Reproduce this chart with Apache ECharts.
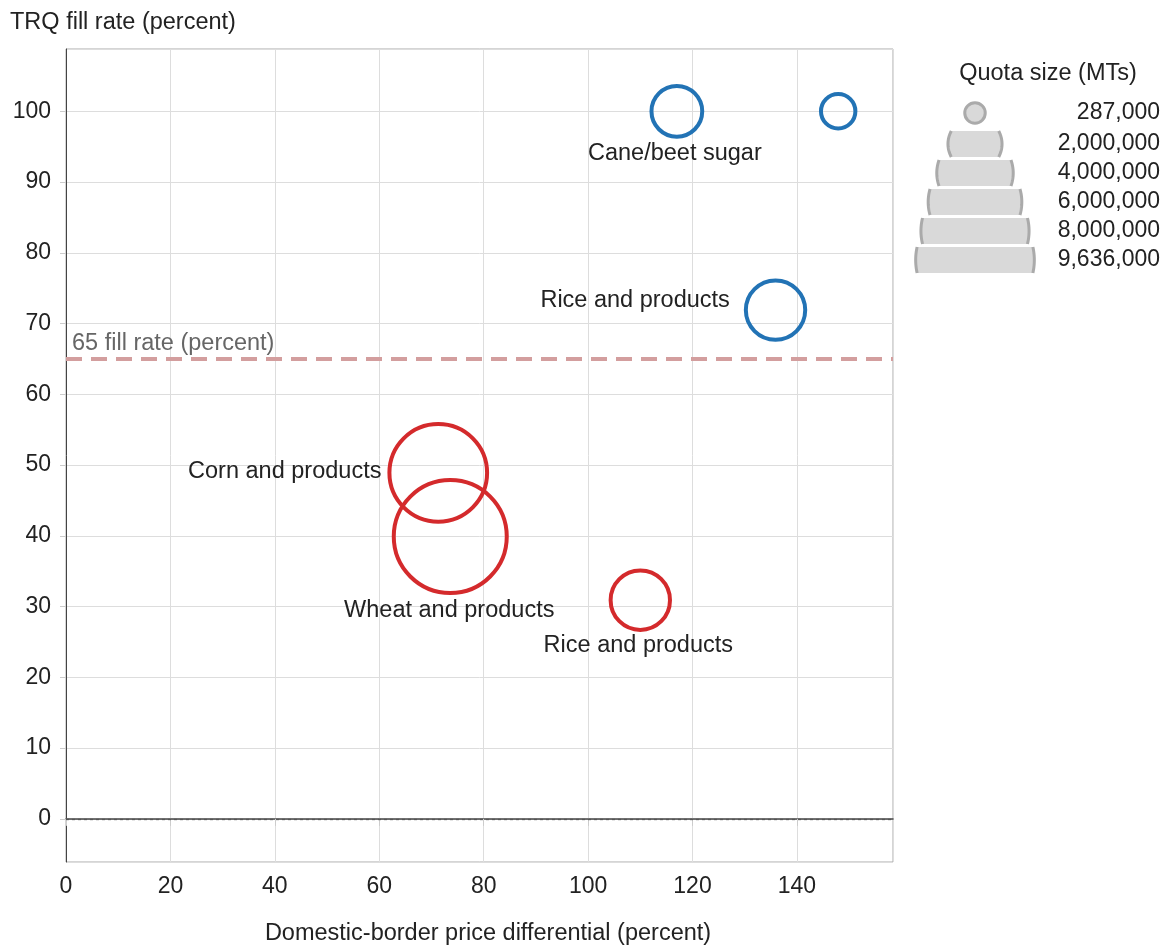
<!DOCTYPE html>
<html>
<head>
<meta charset="utf-8">
<title>TRQ fill rate vs price differential</title>
<script src="https://cdn.jsdelivr.net/npm/echarts@6.0.0/dist/echarts.min.js"></script>
<style>
  html, body { margin: 0; padding: 0; background: #fff; }
  #chart { width: 1166px; height: 947px; }
</style>
</head>
<body>
<div id="chart"></div>
<script>
// values
const names = ['Cane/beet sugar', '', 'Rice and products', 'Corn and products', 'Wheat and products', 'Rice and products']
const priceDiff = [117, 147.9, 135.9, 71.3, 73.6, 110]
const fillRate = [100, 100, 71.9, 48.9, 39.9, 30.9]
const quotas = [1945000, 894000, 2660000, 7200000, 9636000, 2660000]
const groups = ['above', 'above', 'above', 'below', 'below', 'below']

const legendQuotas = [287000, 2000000, 4000000, 6000000, 8000000, 9636000]
const thresholdRate = 65

const FONT = "'Liberation Sans', Arial, Helvetica, sans-serif"
const TEXT = '#222'
const groupColors = { above: '#2273b5', below: '#d42a2c' }

// where each bubble's name sits (style only)
const labelStyles = [
  { position: 'bottom', distance: 3, offset: [-2, 0] },
  { show: false },
  { position: 'left', distance: 14, offset: [0, -10] },
  { position: 'left', distance: 6, offset: [0, -1] },
  { position: 'bottom', distance: 3, offset: [-1, 0] },
  { position: 'bottom', distance: 2, offset: [-2, 0] },
]

// bubble area proportional to quota
const SIZE_K = 113 / Math.sqrt(9636000)
function bubbleSize(q) {
  return SIZE_K * Math.sqrt(q)
}

function buildSeries(group) {
  const data = []
  names.forEach((n, i) => {
    if (groups[i] !== group) return
    data.push({
      name: n,
      value: [priceDiff[i], fillRate[i], quotas[i]],
      label: Object.assign({ show: true }, labelStyles[i]),
    })
  })
  return {
    type: 'scatter',
    name: group,
    data: data,
    symbol: 'circle',
    symbolSize: (v) => bubbleSize(v[2]),
    itemStyle: {
      color: 'rgba(0,0,0,0)',
      borderColor: groupColors[group],
      borderWidth: 4,
      opacity: 1,
    },
    label: {
      formatter: '{b}',
      color: TEXT,
      fontSize: 23.5,
      fontFamily: FONT,
    },
    emphasis: { disabled: true },
    z: 5,
  }
}

// points along a circle arc (angles in radians, screen coords)
function arcPoints(cx, cy, r, a0, a1, steps) {
  const pts = []
  for (let k = 0; k <= steps; k++) {
    const a = a0 + (a1 - a0) * k / steps
    pts.push([cx + r * Math.cos(a), cy + r * Math.sin(a)])
  }
  return pts
}

// size legend: stacked circles cut into bands
function legendGraphics() {
  const out = []
  const cx = 975
  const half = 13
  const legK = SIZE_K * 1.05
  legendQuotas.forEach((q, i) => {
    const cy = i === 0 ? 113 : 144 + 29 * (i - 1)
    const R = legK * Math.sqrt(q) / 2
    if (R <= half) {
      out.push({
        type: 'circle',
        shape: { cx: cx, cy: cy, r: R },
        style: { fill: '#d9d9d9', stroke: '#aaa', lineWidth: 3 },
      })
    } else {
      const a = Math.asin(half / R)
      const right = arcPoints(cx, cy, R, -a, a, 24)
      const left = arcPoints(cx, cy, R, Math.PI - a, Math.PI + a, 24)
      out.push({
        type: 'polygon',
        shape: { points: right.concat(left) },
        style: { fill: '#d9d9d9', stroke: null },
      })
      out.push({
        type: 'polyline',
        shape: { points: right },
        style: { fill: null, stroke: '#aaa', lineWidth: 3 },
      })
      out.push({
        type: 'polyline',
        shape: { points: left },
        style: { fill: null, stroke: '#aaa', lineWidth: 3 },
      })
    }
    out.push({
      type: 'text',
      x: 1160,
      y: cy,
      style: {
        text: q.toLocaleString('en-US'),
        align: 'right',
        verticalAlign: 'middle',
        fontSize: 23,
        fontFamily: FONT,
        fill: TEXT,
      },
    })
  })
  out.push({
    type: 'text',
    x: 1048,
    y: 74,
    style: {
      text: 'Quota size (MTs)',
      align: 'center',
      verticalAlign: 'middle',
      fontSize: 23.5,
      fontFamily: FONT,
      fill: TEXT,
    },
  })
  out.push({
    type: 'text',
    x: 10,
    y: 23,
    style: {
      text: 'TRQ fill rate (percent)',
      align: 'left',
      verticalAlign: 'middle',
      fontSize: 23.5,
      fontFamily: FONT,
      fill: TEXT,
    },
  })
  return out
}

const series = [buildSeries('above'), buildSeries('below')]
// reference lines: zero line and the 65 percent fill rate
series[1].markLine = {
  silent: true,
  symbol: 'none',
  animation: false,
  data: [
    {
      yAxis: 0,
      lineStyle: { color: '#555', width: 1.3, type: [3, 3] },
      label: { show: false },
    },
    {
      yAxis: thresholdRate,
      lineStyle: { color: '#d39e9e', width: 4, type: [16, 9] },
      label: {
        show: true,
        position: 'insideStartTop',
        formatter: thresholdRate + ' fill rate (percent)',
        color: '#666',
        fontSize: 23.5,
        fontFamily: FONT,
        distance: [6, 3],
      },
    },
  ],
}

const chart = echarts.init(document.getElementById('chart'))
chart.setOption({
  animation: false,
  backgroundColor: '#fff',
  textStyle: { fontFamily: FONT },
  grid: {
    left: 66,
    right: 273,
    top: 49,
    bottom: 85,
    outerBoundsMode: 'none',
    show: true,
    borderColor: '#aaa',
    borderWidth: 1,
  },
  xAxis: {
    type: 'value',
    min: 0,
    max: 158.4,
    interval: 20,
    name: 'Domestic-border price differential (percent)',
    nameLocation: 'middle',
    nameGap: 60,
    nameTextStyle: { fontSize: 23.5, color: TEXT, padding: [0, 0, 0, 17] },
    axisLine: { show: true, lineStyle: { color: '#444', width: 1.5 } },
    axisTick: { show: true, length: 7, lineStyle: { color: '#ccc' } },
    axisLabel: { fontSize: 23, color: TEXT, margin: 13, showMaxLabel: false },
    splitLine: { show: true, lineStyle: { color: '#ddd' } },
  },
  yAxis: {
    type: 'value',
    min: -6.1,
    max: 108.8,
    minInterval: 10,
    maxInterval: 10,
    axisLine: { show: true, onZero: false, lineStyle: { color: '#444', width: 1 } },
    axisTick: { show: true, length: 6, lineStyle: { color: '#ccc' } },
    axisLabel: { fontSize: 23, color: TEXT, margin: 15, showMinLabel: false, showMaxLabel: false },
    splitLine: { show: true, lineStyle: { color: '#ddd' } },
  },
  graphic: legendGraphics(),
  series: series,
})
</script>
</body>
</html>
